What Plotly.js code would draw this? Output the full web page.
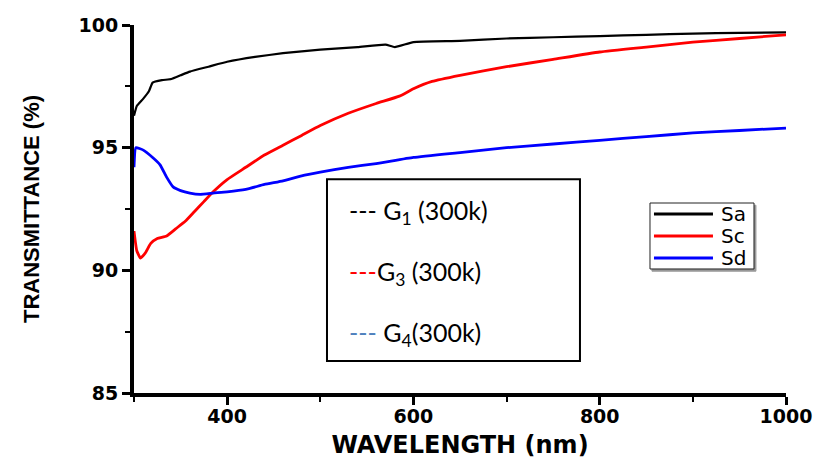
<!DOCTYPE html>
<html><head><meta charset="utf-8">
<script src="https://cdn.plot.ly/plotly-3.0.1.min.js"></script>
<style>html,body{margin:0;padding:0;background:#fff}</style>
</head><body><div id="chart" style="width:819px;height:459px"></div>
<script>
// Data
const saX = [300,303,310,316,320,330,340,350,360,380,400,430,460,500,540,570,580,600,650,700,750,800,850,900,950,1000];
const saY = [96.3,96.7,97.0,97.3,97.65,97.75,97.8,97.95,98.1,98.3,98.5,98.7,98.85,99.0,99.1,99.2,99.1,99.3,99.35,99.45,99.5,99.55,99.6,99.65,99.68,99.7];
const scX = [300,303,307,312,318,325,335,345,355,365,375,385,400,420,440,460,480,500,530,560,585,600,620,650,700,750,800,850,900,950,1000];
const scY = [91.6,90.8,90.5,90.7,91.1,91.3,91.4,91.7,92.0,92.4,92.8,93.2,93.7,94.2,94.7,95.1,95.5,95.9,96.4,96.8,97.1,97.4,97.7,97.95,98.3,98.6,98.9,99.1,99.3,99.45,99.6];
const sdX = [300,302,310,320,328,335,342,350,360,371,385,400,420,440,460,480,500,530,560,600,650,700,750,800,850,900,950,1000];
const sdY = [94.2,95.0,94.9,94.6,94.3,93.8,93.4,93.25,93.15,93.1,93.15,93.2,93.3,93.5,93.65,93.85,94.0,94.2,94.35,94.6,94.8,95.0,95.15,95.3,95.45,95.6,95.7,95.8];
const seriesNames = ['Sa','Sc','Sd'];
const seriesColors = ['#000000','#ff0000','#0000ff'];
const xTicks = [400,600,800,1000];
const yTicks = [85,90,95,100];
const boxLines = [
  '--- G<sub>1</sub> (300k)',
  '<span style="color:#ff0000">---</span>G<sub>3</sub> (300k)',
  '<span style="color:#4f81bd">---</span> G<sub>4</sub>(300k)'
];

const traces = [[saX,saY],[scX,scY],[sdX,sdY]].map((d,i)=>({
  x:d[0], y:d[1], type:'scatter', mode:'lines', name:seriesNames[i],
  line:{color:seriesColors[i], width:i===0?2.2:2.8, shape:'spline', smoothing:0.4}
}));

// legend box (drawn by hand to match the compact original)
const LG = {x0:0.7914, x1:0.9509, y0:0.337, y1:0.5163, lx0:0.7975, lx1:0.888, tx:0.8975, rows:[0.4864,0.4266,0.3668]};
const shapes = [
  {type:'rect', xref:'paper', yref:'paper', x0:0.296, x1:0.684, y0:0.087, y1:0.581,
    line:{color:'#000', width:2}, fillcolor:'rgba(0,0,0,0)'},
  {type:'rect', xref:'paper', yref:'paper', x0:LG.x0+0.003, x1:LG.x1+0.003, y0:LG.y0-0.006, y1:LG.y1-0.006,
    line:{color:'#999', width:1}, fillcolor:'#999'},
  {type:'rect', xref:'paper', yref:'paper', x0:LG.x0, x1:LG.x1, y0:LG.y0, y1:LG.y1,
    line:{color:'#222', width:1}, fillcolor:'#fff'}
];
seriesNames.forEach((n,i)=>shapes.push({type:'line', xref:'paper', yref:'paper',
  x0:LG.lx0, x1:LG.lx1, y0:LG.rows[i], y1:LG.rows[i], line:{color:seriesColors[i], width:3}}));

const annotations = boxLines.map((t,i)=>({
  xref:'paper', yref:'paper', x:0.327, y:0.492 - i*0.166, xanchor:'left', yanchor:'middle',
  showarrow:false, text:t, align:'left',
  font:{family:'Lato, Carlito, sans-serif', size:25, color:'#000'}
}));
seriesNames.forEach((n,i)=>annotations.push({xref:'paper', yref:'paper', x:LG.tx, y:LG.rows[i],
  xanchor:'left', yanchor:'middle', showarrow:false, text:n,
  font:{family:'DejaVu Sans, sans-serif', size:20, color:'#000'}}));

const bold = 'DejaVu Sans, sans-serif';
const tickFont = {family:bold, size:19, color:'#000', weight:'bold'};
const layout = {
  width:819, height:459, autosize:false,
  margin:{l:134, r:33, t:25, b:66},
  paper_bgcolor:'#fff', plot_bgcolor:'#fff',
  showlegend:false,
  xaxis:{range:[300,1000], tickvals:xTicks, ticktext:xTicks.map(String),
    ticks:'outside', ticklen:8, tickwidth:3, tickcolor:'#000', ticklabelstandoff:-5,
    minor:{tickvals:[300,500,700,900], ticks:'outside', ticklen:5, tickwidth:2, tickcolor:'#000'},
    showline:true, linewidth:4, linecolor:'#000', showgrid:false, zeroline:false,
    tickfont:tickFont,
    title:{text:'WAVELENGTH (nm)', standoff:14, font:{family:bold, size:24, color:'#000', weight:'bold'}}},
  yaxis:{range:[85,100], tickvals:yTicks, ticktext:yTicks.map(String),
    ticks:'outside', ticklen:8, tickwidth:3, tickcolor:'#000',
    minor:{tickvals:[87.5,92.5,97.5], ticks:'outside', ticklen:5, tickwidth:2, tickcolor:'#000'},
    showline:true, linewidth:4, linecolor:'#000', showgrid:false, zeroline:false,
    tickfont:tickFont,
    title:{text:'TRANSMITTANCE (%)', standoff:34, font:{family:'Liberation Sans, Arial, sans-serif', size:22, color:'#000', weight:'bold'}}},
  xaxis2:{overlaying:'x', side:'top', anchor:'y', range:[300,1000], tickvals:xTicks,
    ticks:'inside', ticklen:8, tickwidth:3, tickcolor:'#000', showticklabels:false,
    minor:{tickvals:[300,500,700,900], ticks:'inside', ticklen:5, tickwidth:2, tickcolor:'#000'},
    showline:true, linewidth:4, linecolor:'#000', showgrid:false, zeroline:false},
  yaxis2:{overlaying:'y', side:'right', anchor:'x', range:[85,100], tickvals:yTicks,
    ticks:'inside', ticklen:8, tickwidth:3, tickcolor:'#000', showticklabels:false,
    minor:{tickvals:[87.5,92.5,97.5], ticks:'inside', ticklen:5, tickwidth:2, tickcolor:'#000'},
    showline:true, linewidth:4, linecolor:'#000', showgrid:false, zeroline:false},
  shapes: shapes,
  annotations: annotations
};
Plotly.newPlot('chart', traces, layout, {staticPlot:true, displayModeBar:false});
</script></body></html>
